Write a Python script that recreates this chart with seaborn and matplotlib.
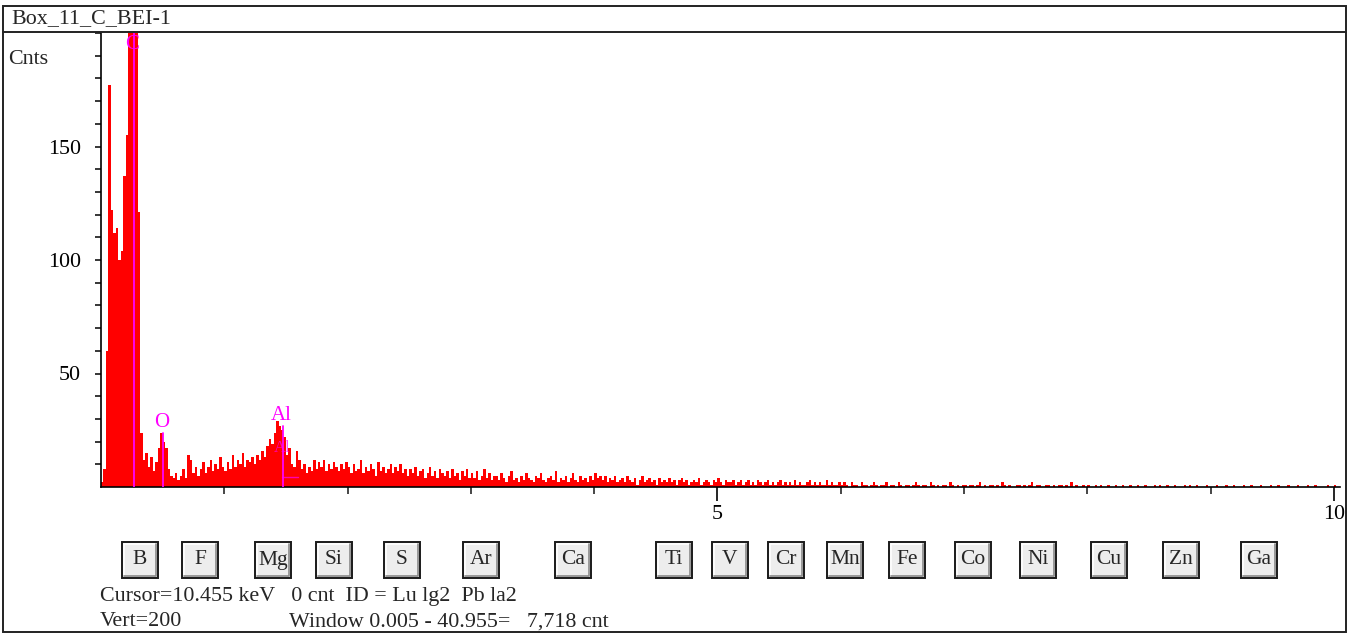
import numpy as np
import pandas as pd
import matplotlib
matplotlib.use("Agg")
import matplotlib.pyplot as plt
from matplotlib.patches import Rectangle
from matplotlib.lines import Line2D
import seaborn as sns

# ---------------- data ----------------
channel_width_kev = 0.02
counts = [
    2, 8, 60, 177, 122, 112, 114, 100, 104, 137,
    155, 205, 260, 290, 230, 121, 24, 12, 15, 9,
    13, 7, 11, 17, 24, 20, 17, 8, 5, 4,
    6, 3, 5, 8, 4, 14, 12, 6, 9, 5,
    8, 11, 6, 9, 12, 7, 10, 8, 13, 9,
    7, 11, 8, 14, 9, 12, 10, 15, 9, 12,
    11, 13, 10, 14, 12, 16, 13, 18, 21, 19,
    24, 29, 27, 25, 22, 14, 17, 10, 9, 16,
    12, 8, 10, 6, 9, 7, 12, 8, 11, 9,
    12, 7, 10, 8, 11, 9, 7, 10, 8, 11,
    9, 6, 10, 7, 8, 12, 6, 9, 7, 10,
    8, 5, 11, 7, 9, 6, 8, 10, 6, 9,
    7, 10, 6, 8, 5, 8, 6, 9, 5, 7,
    8, 4, 6, 9, 5, 7, 4, 8, 6, 5,
    7, 4, 8, 5, 6, 3, 7, 5, 8, 4,
    6, 4, 7, 3, 5, 8, 4, 6, 3, 5,
    5, 3, 6, 4, 2, 5, 7, 3, 4, 2,
    5, 3, 6, 4, 3, 2, 5, 4, 6, 3,
    2, 4, 5, 3, 7, 2, 4, 3, 5, 2,
    4, 6, 3, 2, 5, 3, 4, 2, 5, 3,
    6, 4, 5, 3, 5, 2, 4, 3, 5, 2,
    3, 4, 2, 5, 3, 2, 4, 1, 3, 5,
    2, 3, 4, 2, 3, 1, 4, 2, 3, 2,
    4, 2, 3, 1, 3, 4, 2, 3, 1, 2,
    3, 2, 4, 1, 2, 3, 2, 1, 3, 2,
    4, 2, 1, 3, 2, 2, 3, 1, 2, 3,
    1, 2, 3, 1, 2, 1, 3, 2, 1, 2,
    3, 1, 2, 1, 2, 3, 1, 2, 1, 2,
    1, 3, 1, 2, 1, 1, 2, 3, 1, 2,
    1, 2, 1, 1, 3, 1, 2, 1, 1, 2,
    1, 2, 1, 0, 2, 1, 1, 0, 2, 1,
    1, 0, 1, 2, 1, 0, 1, 1, 2, 0,
    1, 1, 0, 2, 1, 0, 1, 1, 0, 1,
    2, 1, 0, 1, 1, 0, 2, 1, 0, 1,
    0, 1, 1, 0, 2, 1, 0, 1, 0, 1,
    1, 0, 1, 1, 0, 1, 2, 0, 1, 0,
    1, 1, 0, 1, 0, 2, 1, 0, 1, 0,
    0, 1, 1, 0, 1, 0, 1, 2, 0, 1,
    1, 0, 0, 1, 1, 0, 1, 0, 1, 1,
    0, 1, 0, 2, 0, 1, 0, 0, 1, 0,
    1, 0, 0, 1, 0, 1, 0, 0, 1, 0,
    0, 1, 0, 0, 1, 0, 0, 1, 0, 0,
    1, 0, 0, 1, 0, 0, 0, 1, 0, 1,
    0, 0, 1, 0, 0, 1, 0, 0, 0, 1,
    0, 1, 0, 0, 1, 0, 0, 0, 1, 0,
    0, 0, 1, 0, 0, 0, 1, 0, 0, 1,
    0, 0, 0, 1, 0, 0, 1, 0, 0, 0,
    1, 0, 0, 0, 1, 0, 0, 1, 0, 0,
    0, 1, 0, 0, 0, 1, 0, 0, 0, 1,
    0, 0, 1, 0, 0, 0, 0, 1, 0, 0,
    1, 0, 0, 0, 1, 0, 0, 0, 0, 1,
    0, 0,
]
peak_labels = ["C", "O", "Al"]
peak_energies = [0.265, 0.505, 1.48]
peak_line_tops = [200, 24, 27]
peak_label_heights = [195, 28.5, 31.5]

element_buttons = ["B", "F", "Mg", "Si", "S", "Ar", "Ca", "Ti", "V", "Cr",
                   "Mn", "Fe", "Co", "Ni", "Cu", "Zn", "Ga"]
x_major_ticks = [5, 10]
x_minor_ticks = [1, 2, 3, 4, 6, 7, 8, 9]
y_major_ticks = [50, 100, 150]
title_text = "Box_11_C_BEI-1"
y_unit_text = "Cnts"
status_line_1 = "Cursor=10.455 keV   0 cnt  ID = Lu lg2  Pb la2"
status_vert = "Vert=200"
status_window = "Window 0.005 - 40.955=   7,718 cnt"

# ---------------- layout ----------------
W, H = 1349, 635
button_left_px = [122, 182, 255, 316, 384, 463, 555, 656, 712, 768, 827,
                  889, 955, 1020, 1091, 1163, 1241]
FS = 15.8

sns.set_style("white")
plt.rcParams["font.family"] = ["Liberation Serif", "DejaVu Serif"]

fig = plt.figure(figsize=(W / 100, H / 100), dpi=100)
fig.patch.set_facecolor("white")


def fx(px):
    return px / W


def fy(py):
    return 1 - py / H


ax_left, ax_right, ax_top, ax_bottom = 101, 1340, 33, 487
ax = fig.add_axes([fx(ax_left), fy(ax_bottom), (ax_right - ax_left) / W,
                   (ax_bottom - ax_top) / H])
ax.set_facecolor("white")

n = len(counts)
df = pd.DataFrame({"energy": (np.arange(n) + 0.5) * channel_width_kev,
                   "counts": counts})
sns.histplot(data=df, x="energy", weights="counts",
             binwidth=channel_width_kev,
             binrange=(0, n * channel_width_kev),
             element="bars", fill=True, color="#FF0000", alpha=1,
             linewidth=0, ax=ax)

for lab, e, top, lh in zip(peak_labels, peak_energies, peak_line_tops,
                          peak_label_heights):
    ax.plot([e, e], [0, top], color="#FF00FF", lw=1.3, zorder=5,
            clip_on=True)
    ax.text(e - 0.015, lh, lab, color="#FF00FF", fontsize=15,
            ha="center", va="center", zorder=6)
# small Al beta-line markers
ax.text(1.47, 17, "Al", color="#FF00FF", fontsize=12, ha="center",
        va="center", alpha=0.7, zorder=6)
ax.plot([1.47, 1.60], [4.2, 4.2], color="#FF00FF", lw=1, alpha=0.7, zorder=6)

ax.set_xlim(0, (ax_right - ax_left) / 123.3)
ax.set_ylim(0, 200)
ax.set_xlabel("")
ax.set_ylabel("")
for s in ["top", "right"]:
    ax.spines[s].set_visible(False)
for s in ["left", "bottom"]:
    ax.spines[s].set_color("black")
    ax.spines[s].set_linewidth(1.2)

ax.set_xticks(x_major_ticks)
ax.set_xticklabels([str(t) for t in x_major_ticks])
ax.set_xticks(x_minor_ticks, minor=True)
ax.set_yticks(y_major_ticks)
ax.set_yticklabels([str(t) for t in y_major_ticks])
ax.set_yticks(np.arange(10, 201, 10), minor=True)
ax.tick_params(axis="x", which="major", direction="out", length=10,
               width=1.2, pad=3, labelsize=FS, colors="black",
               bottom=True)
ax.tick_params(axis="x", which="minor", direction="out", length=5,
               width=1.2, bottom=True)
ax.tick_params(axis="y", which="both", direction="out", length=4.5,
               width=1.1, pad=10, labelsize=FS, colors="black", left=True)

# ---------------- frame and header ----------------
fig.add_artist(Rectangle((fx(3), fy(632)), fx(1346) - fx(3),
                         fy(6) - fy(632), transform=fig.transFigure,
                         fill=False, edgecolor="#222222", lw=1.4))
fig.add_artist(Line2D([fx(3), fx(1346)], [fy(32), fy(32)],
                      transform=fig.transFigure, color="#222222", lw=1.4))
fig.text(fx(11), fy(19), title_text, fontsize=FS, ha="left",
         va="center")
fig.text(fx(8), fy(60), y_unit_text, fontsize=FS, ha="left",
         va="center")

# ---------------- element buttons ----------------
bw, bh, btop = 36, 36, 542
for lab, left in zip(element_buttons, button_left_px):
    fig.add_artist(Rectangle((fx(left), fy(btop + bh)), bw / W, bh / H,
                             transform=fig.transFigure,
                             facecolor="#EDEDED", edgecolor="#1A1A1A",
                             lw=1.4))
    fig.add_artist(Line2D([fx(left + 2), fx(left + 2), fx(left + bw - 2)],
                          [fy(btop + bh - 2), fy(btop + 2), fy(btop + 2)],
                          transform=fig.transFigure, color="white", lw=1.2))
    fig.add_artist(Line2D([fx(left + 2), fx(left + bw - 2),
                           fx(left + bw - 2)],
                          [fy(btop + bh - 2), fy(btop + bh - 2),
                           fy(btop + 2)],
                          transform=fig.transFigure, color="#8A8A8A",
                          lw=1.2))
    fig.text(fx(left + bw / 2), fy(btop + bh / 2), lab, fontsize=15.5,
             ha="center", va="center")

# ---------------- status lines ----------------
fig.text(fx(100), fy(596), status_line_1, fontsize=FS, ha="left",
         va="center")
fig.text(fx(100), fy(622), status_vert, fontsize=FS, ha="left",
         va="center")
fig.text(fx(289), fy(622), status_window, fontsize=FS, ha="left",
         va="center")

fig.savefig("out.png", dpi=100, facecolor="white")
